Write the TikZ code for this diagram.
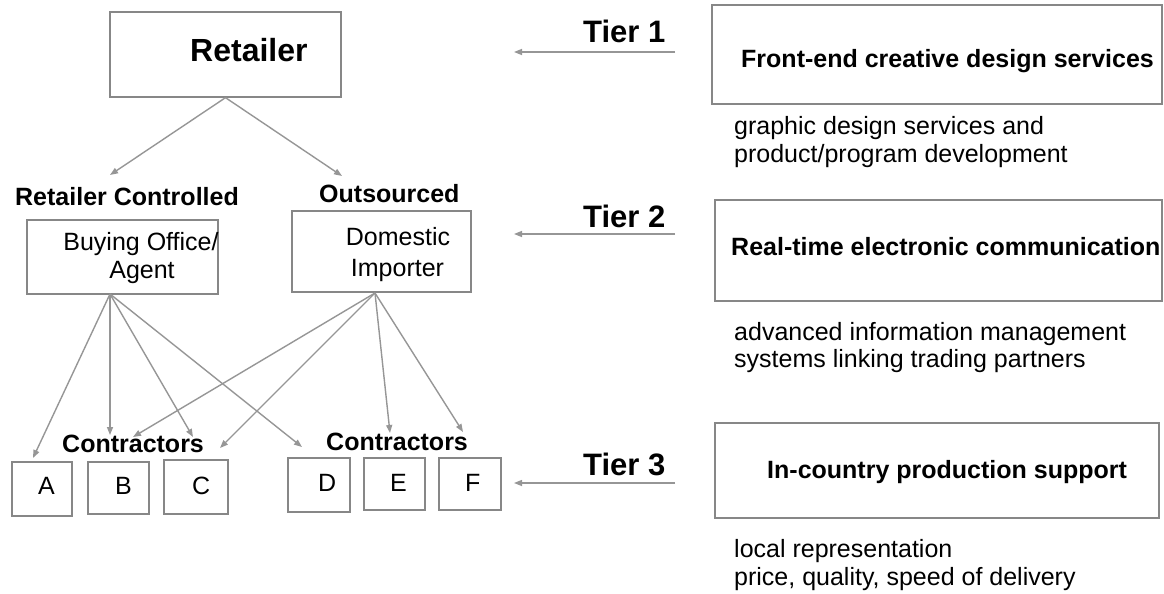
\documentclass[tikz,border=0pt]{standalone}
\usepackage{fontspec}
\setmainfont{Liberation Sans}
\usetikzlibrary{arrows.meta}
\definecolor{boxgray}{RGB}{135,135,135}
\definecolor{linegray}{RGB}{150,150,150}
\begin{document}
\begin{tikzpicture}[x=1pt,y=-1pt,
  box/.style={draw=boxgray, line width=1.3pt, inner sep=0pt},
  link/.style={draw=linegray, line width=1.4pt, -{Triangle[length=8pt,width=6pt]}},
  txt/.style={inner sep=0pt, font=\fontsize{25}{28}\selectfont},
  hd/.style={inner sep=0pt, font=\bfseries\fontsize{25}{28}\selectfont},
  tier/.style={inner sep=0pt, font=\bfseries\fontsize{31}{34}\selectfont}]
\useasboundingbox (0,0) rectangle (1164,594);
\node[box, minimum width=231pt, minimum height=85pt] (ret) at (225.5,54.5){};
\node[hd, anchor=base west, font=\bfseries\fontsize{32}{36}\selectfont] (rettxt) at (190,62){Retailer};
\node[hd, anchor=base west] (rcl) at (15,205){Retailer Controlled};
\node[hd, anchor=base west] (osl) at (319,202){Outsourced};
\coordinate (rctip) at (110,175);
\coordinate (ostip) at (342,176);
\draw[link](ret.south) -- (rctip);
\draw[link](ret.south) -- (ostip);
\node[box, minimum width=191pt, minimum height=74pt] (bo) at (122.5,257){};
\node[txt, anchor=base] (bo1) at (141,250){Buying Office/};
\node[txt, anchor=base] (bo2) at (142,278){Agent};
\node[box, minimum width=179pt, minimum height=81pt] (di) at (381.5,251.5){};
\node[txt, anchor=base] (di1) at (398,245){Domestic};
\node[txt, anchor=base] (di2) at (397.5,276){Importer};
\node[hd, anchor=base west] (conl) at (62,452){Contractors};
\node[hd, anchor=base west] (conr) at (326,450){Contractors};
\node[box, minimum width=60pt, minimum height=54pt] (ca) at (42,489){};
\node[box, minimum width=61pt, minimum height=52pt] (cb) at (118.5,488){};
\node[box, minimum width=64pt, minimum height=54pt] (cc) at (196,487){};
\node[box, minimum width=62pt, minimum height=54pt] (cd) at (319,485){};
\node[box, minimum width=61pt, minimum height=52pt] (ce) at (394.5,484){};
\node[box, minimum width=62pt, minimum height=52pt] (cf) at (470,484){};
\node[txt, anchor=base west] (la) at (38,494){A};
\node[txt, anchor=base west] (lb) at (115,494){B};
\node[txt, anchor=base west] (lc) at (192,494){C};
\node[txt, anchor=base west] (ld) at (318,491){D};
\node[txt, anchor=base west] (le) at (390,491){E};
\node[txt, anchor=base west] (lf) at (465,491){F};
\coordinate (bosrc) at (110,294);
\coordinate (disrc) at (375,293);
\coordinate (boa) at (33,458);
\coordinate (bob) at (110,435);
\coordinate (boc) at (193,437);
\coordinate (bod) at (302,447);
\coordinate (dib) at (133,437);
\coordinate (dic) at (220,448);
\coordinate (die) at (390,433);
\coordinate (dif) at (463,432);
\draw[link](bosrc) -- (boa);
\draw[link](bosrc) -- (bob);
\draw[link](bosrc) -- (boc);
\draw[link](bosrc) -- (bod);
\draw[link](disrc) -- (dib);
\draw[link](disrc) -- (dic);
\draw[link](disrc) -- (die);
\draw[link](disrc) -- (dif);
\node[tier, anchor=base west] (t1) at (583,43){Tier 1};
\node[tier, anchor=base west] (t2) at (583,227){Tier 2};
\node[tier, anchor=base west] (t3) at (583,475){Tier 3};
\coordinate (t1s) at (675,52);
\coordinate (t1e) at (514,52);
\coordinate (t2s) at (675,234);
\coordinate (t2e) at (514,234);
\coordinate (t3s) at (675,483);
\coordinate (t3e) at (514,483);
\draw[link](t1s) -- (t1e);
\draw[link](t2s) -- (t2e);
\draw[link](t3s) -- (t3e);
\node[box, minimum width=450pt, minimum height=99pt] (s1) at (937,54.5){};
\node[box, minimum width=447pt, minimum height=101pt] (s2) at (938.5,250.5){};
\node[box, minimum width=444pt, minimum height=95pt] (s3) at (937,470.5){};
\node[hd, anchor=base west] (s1h) at (741,67){Front-end creative design services};
\node[hd, anchor=base west] (s2h) at (731,255){Real-time electronic communication};
\node[hd, anchor=base west] (s3h) at (767,478){In-country production support};
\node[txt, anchor=base west] (s1a) at (734,134){graphic design services and};
\node[txt, anchor=base west] (s1b) at (734,162){product/program development};
\node[txt, anchor=base west] (s2a) at (734,340){advanced information management};
\node[txt, anchor=base west] (s2b) at (734,367){systems linking trading partners};
\node[txt, anchor=base west] (s3a) at (734,557){local representation};
\node[txt, anchor=base west] (s3b) at (734,585){price, quality, speed of delivery};
\end{tikzpicture}
\end{document}
